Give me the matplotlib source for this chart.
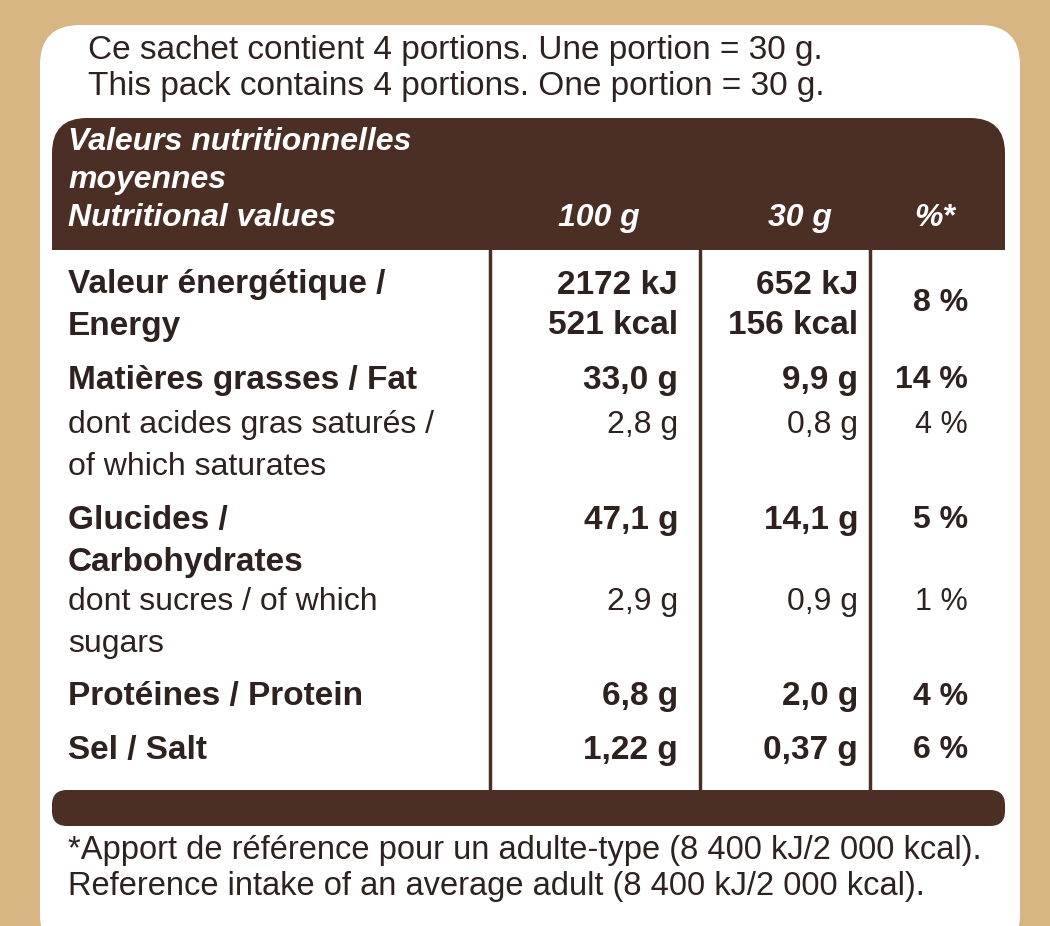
import matplotlib
matplotlib.use("Agg")
import matplotlib.pyplot as plt
from matplotlib.patches import FancyBboxPatch, Rectangle

intro = ["Ce sachet contient 4 portions. Une portion = 30 g.",
         "This pack contains 4 portions. One portion = 30 g."]
header_lines = ["Valeurs nutritionnelles", "moyennes", "Nutritional values"]
col_heads = ["100 g", "30 g", "%*"]
# (label lines, bold, per100 lines, per30 lines, pct lines, y of first line)
rows = [
    (["Valeur énergétique /", "Energy"], True, ["2172 kJ", "521 kcal"], ["652 kJ", "156 kcal"], ["8 %"], 285),
    (["Matières grasses / Fat"], True, ["33,0 g"], ["9,9 g"], ["14 %"], 380),
    (["dont acides gras saturés /", "of which saturates"], False, ["2,8 g"], ["0,8 g"], ["4 %"], 425),
    (["Glucides /", "Carbohydrates"], True, ["47,1 g"], ["14,1 g"], ["5 %"], 520),
    (["dont sucres / of which", "sugars"], False, ["2,9 g"], ["0,9 g"], ["1 %"], 602),
    (["Protéines / Protein"], True, ["6,8 g"], ["2,0 g"], ["4 %"], 697),
    (["Sel / Salt"], True, ["1,22 g"], ["0,37 g"], ["6 %"], 750),
]
footer = ["*Apport de référence pour un adulte-type (8 400 kJ/2 000 kcal).",
          "Reference intake of an average adult (8 400 kJ/2 000 kcal)."]

brown = "#4b2f24"
text_c = "#2e2220"
plt.rcParams['font.family'] = ['Liberation Sans', 'DejaVu Sans']
fig = plt.figure(figsize=(10.5, 9.26), dpi=100)
fig.patch.set_facecolor("#d8b683")
ax = fig.add_axes([0, 0, 1, 1])
ax.set_xlim(0, 1050); ax.set_ylim(926, 0); ax.axis("off")

ax.add_patch(FancyBboxPatch((40, 25), 980, 930, boxstyle="round,pad=0,rounding_size=40",
                            fc="white", ec="none"))
ax.add_patch(FancyBboxPatch((52, 118), 953, 150, boxstyle="round,pad=0,rounding_size=35",
                            fc=brown, ec="none"))
ax.add_patch(Rectangle((52, 200), 953, 50, fc=brown, ec="none"))
ax.add_patch(Rectangle((52, 250), 953, 560, fc="white", ec="none"))
ax.add_patch(FancyBboxPatch((52, 790), 953, 36, boxstyle="round,pad=0,rounding_size=15",
                            fc=brown, ec="none"))
for x in (490, 700, 870):
    ax.plot([x, x], [250, 792], color=brown, lw=2.5)

for i, t in enumerate(intro):
    ax.text(88, 50 + 36 * i, t, fontsize=24, color=text_c, va="center")
for i, t in enumerate(header_lines):
    ax.text(68, 142 + 38 * i, t, fontsize=23, color="white", weight="bold", style="italic", va="center")
for t, x in zip(col_heads, (640, 832, 955)):
    ax.text(x, 218, t, fontsize=23, color="white", weight="bold", style="italic", va="center", ha="right")

for lab, bold, a, b, c, y in rows:
    w = "bold" if bold else "normal"
    fs = 24 if bold else 23
    for i, t in enumerate(lab):
        ax.text(68, y + 42 * i, t, fontsize=fs, color=text_c, weight=w, va="center")
    for i, t in enumerate(a):
        ax.text(678, y + 40 * i, t, fontsize=fs, color=text_c, weight=w, va="center", ha="right")
    for i, t in enumerate(b):
        ax.text(858, y + 40 * i, t, fontsize=fs, color=text_c, weight=w, va="center", ha="right")
    for i, t in enumerate(c):
        ax.text(968, y + 18 if len(a) > 1 else y, t, fontsize=fs - 1, color=text_c, weight=w, va="center", ha="right")

for i, t in enumerate(footer):
    ax.text(68, 850 + 36 * i, t, fontsize=23.5, color=text_c, va="center")

fig.savefig("out.png", dpi=100, facecolor=fig.get_facecolor())
